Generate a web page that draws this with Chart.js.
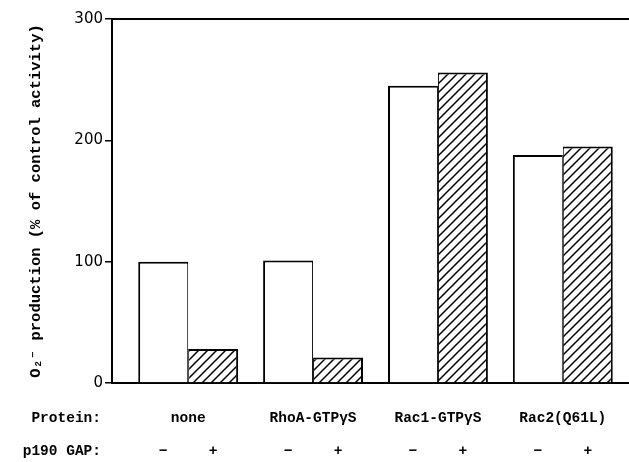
<!DOCTYPE html>
<html>
<head>
<meta charset="utf-8">
<script src="https://cdn.jsdelivr.net/npm/chart.js@4"></script>
<style>
  html, body { margin: 0; padding: 0; background: #fff; }
  #wrap { width: 629px; height: 462px; }
</style>
</head>
<body>
<div id="wrap"><canvas id="gapChart"></canvas></div>
<script>
const proteins = ["none", "RhoA-GTPγS", "Rac1-GTPγS", "Rac2(Q61L)"];
const withoutGap = [100, 101, 245, 188];
const withGap = [28, 21, 256, 195];
const gapSigns = ["−", "+"];
const yTicks = [0, 100, 200, 300];

const monoFamily = "'Liberation Mono', 'Courier New', monospace";
// label rows are centred with a tall line height instead of tick padding,
// so the axis does not push the plot area in from the right
const rowCenter = 35;
const signCenter = 24;
const proteinFont = { family: monoFamily, size: 14.5, weight: "bold", lineHeight: rowCenter * 2 + "px" };
const signFont = { family: monoFamily, size: 14.5, weight: "bold", lineHeight: signCenter * 2 + "px" };

const canvas = document.getElementById("gapChart");
const ctx = canvas.getContext("2d");

const makeHatch = () => {
  const size = 9;
  const tile = document.createElement("canvas");
  tile.width = size;
  tile.height = size;
  const c = tile.getContext("2d");
  c.fillStyle = "#fff";
  c.fillRect(0, 0, size, size);
  c.strokeStyle = "#000";
  c.lineWidth = 1.5;
  c.beginPath();
  c.moveTo(-1, size + 1);
  c.lineTo(size + 1, -1);
  c.moveTo(-1, 1);
  c.lineTo(1, -1);
  c.moveTo(size - 1, size + 1);
  c.lineTo(size + 1, size - 1);
  c.stroke();
  return ctx.createPattern(tile, "repeat");
};

// group i sits at x = i, the two bars at i - 0.2 and i + 0.2
const signTicks = [];
proteins.forEach((p, i) => {
  signTicks.push({ value: i - 0.2, label: gapSigns[0] });
  signTicks.push({ value: i + 0.2, label: gapSigns[1] });
});

const xMin = -0.61;
const xMax = 3.53;

const rowLabels = {
  id: "rowLabels",
  afterDraw(chart) {
    const c = chart.ctx;
    const xs = chart.scales.x;
    const ss = chart.scales.signs;
    c.save();
    c.font = `bold 14.5px ${monoFamily}`;
    c.fillStyle = "#000";
    c.textAlign = "right";
    c.textBaseline = "middle";
    c.fillText("Protein:", 101, xs.top + rowCenter);
    c.fillText("p190 GAP:", 101, ss.top + signCenter);
    c.restore();
  },
};

Chart.defaults.color = "#000";

new Chart(canvas, {
  type: "bar",
  data: {
    datasets: [
      {
        label: "− p190 GAP",
        data: withoutGap.map((v, i) => ({ x: i, y: v })),
        backgroundColor: "#fff",
        borderColor: "#000",
        borderWidth: { left: 2, top: 2, right: 1, bottom: 0 },
        borderSkipped: "start",
      },
      {
        label: "+ p190 GAP",
        data: withGap.map((v, i) => ({ x: i, y: v })),
        backgroundColor: makeHatch(),
        borderColor: "#000",
        borderWidth: { left: 1, top: 2, right: 2, bottom: 0 },
        borderSkipped: "start",
      },
    ],
  },
  options: {
    responsive: true,
    maintainAspectRatio: false,
    animation: false,
    layout: { padding: { top: 19, right: 0, bottom: 0, left: 0 } },
    datasets: { bar: { categoryPercentage: 0.8, barPercentage: 1.0 } },
    plugins: { legend: { display: false }, tooltip: { enabled: false } },
    scales: {
      x: {
        type: "linear",
        position: "bottom",
        offset: false,
        min: xMin,
        max: xMax,
        grid: { display: false, drawTicks: false, offset: false },
        border: { display: true, color: "#000", width: 2 },
        afterBuildTicks: (axis) => {
          axis.ticks = proteins.map((p, i) => ({ value: i }));
        },
        afterFit: (axis) => {
          axis.height = 44;
        },
        ticks: {
          autoSkip: false,
          maxRotation: 0,
          padding: 0,
          font: proteinFont,
          callback: (value) => proteins[Math.round(value)],
        },
      },
      signs: {
        type: "linear",
        position: "bottom",
        offset: false,
        min: xMin,
        max: xMax,
        grid: { display: false, drawTicks: false, offset: false },
        border: { display: false },
        afterBuildTicks: (axis) => {
          axis.ticks = signTicks.map((t) => ({ value: t.value }));
        },
        afterFit: (axis) => {
          axis.height = 35;
        },
        ticks: {
          autoSkip: false,
          maxRotation: 0,
          padding: 0,
          font: signFont,
          callback: (value, index) => signTicks[index].label,
        },
      },
      top: {
        type: "linear",
        position: "top",
        offset: false,
        min: xMin,
        max: xMax,
        grid: { display: false, drawTicks: false },
        border: { display: true, color: "#000", width: 2 },
        ticks: { display: false },
        afterFit: (axis) => {
          axis.height = 0;
        },
      },
      y: {
        min: 0,
        max: 300,
        afterBuildTicks: (axis) => {
          axis.ticks = yTicks.map((v) => ({ value: v }));
        },
        afterFit: (axis) => {
          axis.width = 112;
        },
        grid: {
          drawOnChartArea: false,
          drawTicks: true,
          tickLength: 7,
          color: "#000",
          lineWidth: 1.5,
        },
        border: { display: true, color: "#000", width: 2 },
        ticks: {
          padding: 2,
          font: { family: "'DejaVu Sans', sans-serif", size: 15 },
        },
        title: {
          display: true,
          text: "O₂⁻ production (% of control activity)",
          padding: { top: 27, bottom: 0 },
          font: { family: monoFamily, size: 15.5, weight: "bold" },
        },
      },
    },
  },
  plugins: [rowLabels],
});
</script>
</body>
</html>
